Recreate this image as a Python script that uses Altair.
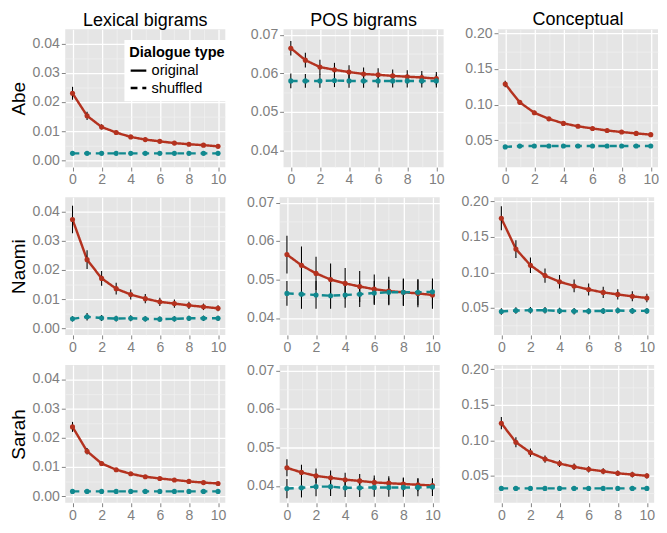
import altair as alt
import pandas as pd

LAGS = [0, 1, 2, 3, 4, 5, 6, 7, 8, 9, 10]
TYPES = ["original", "shuffled"]
SPEAKERS = ["Abe", "Naomi", "Sarah"]
MEASURES = ["Lexical bigrams", "POS bigrams", "Conceptual"]

# ---- Abe ----
ABE_LEX_ORIG = [0.0230, 0.0153, 0.0115, 0.0096, 0.0081, 0.0072, 0.0066, 0.0060, 0.0056, 0.0053, 0.0049]
ABE_LEX_ORIG_ERR = [0.0022, 0.0014, 0.0009, 0.0007, 0.0006, 0.0006, 0.0005, 0.0005, 0.0005, 0.0005, 0.0004]
ABE_LEX_SHUF = [0.0025, 0.0025, 0.0025, 0.0025, 0.0025, 0.0025, 0.0025, 0.0025, 0.0025, 0.0025, 0.0025]
ABE_LEX_SHUF_ERR = [0.0003, 0.0003, 0.0003, 0.0003, 0.0003, 0.0003, 0.0003, 0.0003, 0.0003, 0.0003, 0.0003]

ABE_POS_ORIG = [0.0665, 0.0634, 0.0616, 0.0609, 0.0603, 0.0598, 0.0596, 0.0593, 0.0591, 0.0589, 0.0586]
ABE_POS_ORIG_ERR = [0.0019, 0.0019, 0.0019, 0.0018, 0.0018, 0.0017, 0.0017, 0.0017, 0.0017, 0.0017, 0.0017]
ABE_POS_SHUF = [0.0580, 0.0580, 0.0580, 0.0581, 0.0580, 0.0580, 0.0580, 0.0580, 0.0580, 0.0580, 0.0580]
ABE_POS_SHUF_ERR = [0.0019, 0.0018, 0.0018, 0.0017, 0.0018, 0.0018, 0.0017, 0.0017, 0.0017, 0.0017, 0.0017]

ABE_CON_ORIG = [0.1290, 0.1032, 0.0886, 0.0800, 0.0736, 0.0695, 0.0664, 0.0636, 0.0614, 0.0595, 0.0577]
ABE_CON_ORIG_ERR = [0.0045, 0.0035, 0.0028, 0.0025, 0.0023, 0.0022, 0.0021, 0.0020, 0.0019, 0.0019, 0.0018]
ABE_CON_SHUF = [0.0405, 0.0416, 0.0418, 0.0418, 0.0418, 0.0418, 0.0418, 0.0418, 0.0418, 0.0418, 0.0418]
ABE_CON_SHUF_ERR = [0.0010, 0.0010, 0.0010, 0.0010, 0.0010, 0.0010, 0.0010, 0.0010, 0.0010, 0.0010, 0.0010]

# ---- Naomi ----
NAOMI_LEX_ORIG = [0.0372, 0.0235, 0.0171, 0.0136, 0.0116, 0.0102, 0.0091, 0.0085, 0.0079, 0.0074, 0.0069]
NAOMI_LEX_ORIG_ERR = [0.0047, 0.0032, 0.0025, 0.0020, 0.0017, 0.0016, 0.0014, 0.0014, 0.0012, 0.0011, 0.0010]
NAOMI_LEX_SHUF = [0.0033, 0.0040, 0.0036, 0.0034, 0.0035, 0.0033, 0.0032, 0.0033, 0.0035, 0.0035, 0.0035]
NAOMI_LEX_SHUF_ERR = [0.0009, 0.0013, 0.0010, 0.0010, 0.0010, 0.0009, 0.0009, 0.0009, 0.0009, 0.0009, 0.0009]

NAOMI_POS_ORIG = [0.0565, 0.0537, 0.0516, 0.0500, 0.0490, 0.0482, 0.0475, 0.0470, 0.0467, 0.0464, 0.0460]
NAOMI_POS_ORIG_ERR = [0.0049, 0.0049, 0.0043, 0.0042, 0.0040, 0.0040, 0.0038, 0.0037, 0.0036, 0.0036, 0.0036]
NAOMI_POS_SHUF = [0.0464, 0.0462, 0.0460, 0.0458, 0.0460, 0.0462, 0.0465, 0.0467, 0.0467, 0.0467, 0.0468]
NAOMI_POS_SHUF_ERR = [0.0032, 0.0038, 0.0036, 0.0034, 0.0033, 0.0033, 0.0031, 0.0032, 0.0034, 0.0034, 0.0035]

NAOMI_CON_ORIG = [0.1763, 0.1330, 0.1102, 0.0956, 0.0870, 0.0810, 0.0760, 0.0719, 0.0691, 0.0664, 0.0641]
NAOMI_CON_ORIG_ERR = [0.0170, 0.0125, 0.0110, 0.0100, 0.0095, 0.0090, 0.0085, 0.0080, 0.0072, 0.0070, 0.0060]
NAOMI_CON_SHUF = [0.0450, 0.0464, 0.0468, 0.0468, 0.0459, 0.0455, 0.0455, 0.0459, 0.0464, 0.0459, 0.0459]
NAOMI_CON_SHUF_ERR = [0.0045, 0.0045, 0.0045, 0.0045, 0.0045, 0.0045, 0.0042, 0.0042, 0.0042, 0.0040, 0.0040]

# ---- Sarah ----
SARAH_LEX_ORIG = [0.0237, 0.0154, 0.0112, 0.0091, 0.0077, 0.0067, 0.0061, 0.0056, 0.0051, 0.0047, 0.0044]
SARAH_LEX_ORIG_ERR = [0.0017, 0.0011, 0.0007, 0.0006, 0.0005, 0.0005, 0.0004, 0.0004, 0.0004, 0.0004, 0.0004]
SARAH_LEX_SHUF = [0.0017, 0.0017, 0.0017, 0.0017, 0.0017, 0.0017, 0.0017, 0.0017, 0.0017, 0.0017, 0.0017]
SARAH_LEX_SHUF_ERR = [0.0002, 0.0002, 0.0002, 0.0002, 0.0002, 0.0002, 0.0002, 0.0002, 0.0002, 0.0002, 0.0002]

SARAH_POS_ORIG = [0.0447, 0.0435, 0.0426, 0.0421, 0.0416, 0.0413, 0.0409, 0.0407, 0.0405, 0.0403, 0.0401]
SARAH_POS_ORIG_ERR = [0.0022, 0.0020, 0.0019, 0.0019, 0.0018, 0.0018, 0.0018, 0.0018, 0.0017, 0.0017, 0.0017]
SARAH_POS_SHUF = [0.0393, 0.0395, 0.0398, 0.0398, 0.0395, 0.0395, 0.0396, 0.0396, 0.0396, 0.0396, 0.0397]
SARAH_POS_SHUF_ERR = [0.0025, 0.0025, 0.0025, 0.0024, 0.0024, 0.0024, 0.0024, 0.0024, 0.0024, 0.0023, 0.0023]

SARAH_CON_ORIG = [0.1241, 0.0973, 0.0827, 0.0736, 0.0673, 0.0627, 0.0591, 0.0564, 0.0536, 0.0518, 0.0500]
SARAH_CON_ORIG_ERR = [0.0086, 0.0070, 0.0057, 0.0052, 0.0048, 0.0046, 0.0044, 0.0042, 0.0040, 0.0040, 0.0038]
SARAH_CON_SHUF = [0.0323, 0.0323, 0.0323, 0.0323, 0.0323, 0.0323, 0.0323, 0.0323, 0.0323, 0.0323, 0.0323]
SARAH_CON_SHUF_ERR = [0.0012, 0.0012, 0.0012, 0.0012, 0.0012, 0.0012, 0.0012, 0.0012, 0.0012, 0.0012, 0.0012]

# axis settings per column
X_DOMAIN = [-0.5, 10.5]
X_MAJOR = [0, 2, 4, 6, 8, 10]
X_MINOR = [1, 3, 5, 7, 9]
Y_DOMAINS = [[-0.0022, 0.0448], [0.0356, 0.0714], [0.012, 0.206]]
Y_MAJOR = [[0.00, 0.01, 0.02, 0.03, 0.04], [0.04, 0.05, 0.06, 0.07], [0.05, 0.10, 0.15, 0.20]]
Y_MINOR = [[0.005, 0.015, 0.025, 0.035], [0.045, 0.055, 0.065], [0.025, 0.075, 0.125, 0.175]]
# nudge of each column title so that all three sit at the same height
TITLE_DY = [0, 2, 3]

PANELS = {
    ("Abe", 0): (ABE_LEX_ORIG, ABE_LEX_ORIG_ERR, ABE_LEX_SHUF, ABE_LEX_SHUF_ERR),
    ("Abe", 1): (ABE_POS_ORIG, ABE_POS_ORIG_ERR, ABE_POS_SHUF, ABE_POS_SHUF_ERR),
    ("Abe", 2): (ABE_CON_ORIG, ABE_CON_ORIG_ERR, ABE_CON_SHUF, ABE_CON_SHUF_ERR),
    ("Naomi", 0): (NAOMI_LEX_ORIG, NAOMI_LEX_ORIG_ERR, NAOMI_LEX_SHUF, NAOMI_LEX_SHUF_ERR),
    ("Naomi", 1): (NAOMI_POS_ORIG, NAOMI_POS_ORIG_ERR, NAOMI_POS_SHUF, NAOMI_POS_SHUF_ERR),
    ("Naomi", 2): (NAOMI_CON_ORIG, NAOMI_CON_ORIG_ERR, NAOMI_CON_SHUF, NAOMI_CON_SHUF_ERR),
    ("Sarah", 0): (SARAH_LEX_ORIG, SARAH_LEX_ORIG_ERR, SARAH_LEX_SHUF, SARAH_LEX_SHUF_ERR),
    ("Sarah", 1): (SARAH_POS_ORIG, SARAH_POS_ORIG_ERR, SARAH_POS_SHUF, SARAH_POS_SHUF_ERR),
    ("Sarah", 2): (SARAH_CON_ORIG, SARAH_CON_ORIG_ERR, SARAH_CON_SHUF, SARAH_CON_SHUF_ERR),
}

RED = "#B4321F"
TEAL = "#11898F"
GREY = "#7F7F7F"
MINOR = "#F2F2F2"
FONT = "Liberation Sans"
W, H = 165, 142


def panel_df(orig, orig_err, shuf, shuf_err):
    rows = []
    for t, vals, errs in (("original", orig, orig_err), ("shuffled", shuf, shuf_err)):
        for lag, v, e in zip(LAGS, vals, errs):
            rows.append({"lag": lag, "value": v, "lo": v - e, "hi": v + e,
                         "type": t, "kind": t})
    return pd.DataFrame(rows)


def panel(speaker, col, row_idx):
    df = panel_df(*PANELS[(speaker, col)])
    xscale = alt.Scale(domain=X_DOMAIN, nice=False, zero=False)
    yscale = alt.Scale(domain=Y_DOMAINS[col], nice=False, zero=False)
    base = alt.Chart(df)

    minor = base.mark_point(opacity=0).encode(
        x=alt.X("lag:Q", scale=xscale,
                axis=alt.Axis(values=X_MINOR, grid=True, gridColor=MINOR, gridWidth=0.7,
                              labels=False, ticks=False, domain=False, orient="bottom",
                              title=None, minExtent=0)),
        y=alt.Y("value:Q", scale=yscale,
                axis=alt.Axis(values=Y_MINOR[col], grid=True, gridColor=MINOR, gridWidth=0.7,
                              labels=False, ticks=False, domain=False, orient="left",
                              title=None, minExtent=0)),
    )

    yaxis_kw = dict(values=Y_MAJOR[col], grid=True, gridColor="white", gridWidth=1.3,
                    domain=False, tickColor=GREY, tickSize=4, labelColor=GREY,
                    labelFontSize=14.5, labelPadding=2, format=".2f", orient="left",
                    minExtent=0)
    if col == 0:
        yaxis_kw.update(title=speaker, titleFontSize=19.5, titleColor="black",
                        titleFontWeight="normal", titlePadding=4)
    else:
        yaxis_kw.update(title=None)

    if speaker == "Abe" and col == 0:
        dash_legend = alt.Legend(
            title="Dialogue type", orient="none", legendX=61, legendY=11,
            titleFontSize=15, titleFontWeight="bold", titleColor="black",
            labelFontSize=15, labelColor="black", symbolType="stroke",
            symbolSize=260, symbolStrokeWidth=2.5, symbolStrokeColor="black",
            fillColor="white", padding=5, rowPadding=0, titlePadding=2,
        )
    else:
        dash_legend = None

    # colour uses its own field (no explicit domain) so it is not merged with the dash legend
    color = alt.Color("kind:N", scale=alt.Scale(range=[RED, TEAL]), legend=None)

    lines = base.mark_line(strokeWidth=2.5, color="black").encode(
        x=alt.X("lag:Q", scale=xscale,
                axis=alt.Axis(values=X_MAJOR, grid=True, gridColor="white", gridWidth=1.3,
                              domain=False, tickColor=GREY, tickSize=4, labelColor=GREY,
                              labelFontSize=14.5, labelPadding=2, orient="bottom", title=None)),
        y=alt.Y("value:Q", scale=yscale, axis=alt.Axis(**yaxis_kw)),
        color=color,
        strokeDash=alt.StrokeDash("type:N",
                                  scale=alt.Scale(domain=TYPES, range=[[1, 0], [7, 5]]),
                                  legend=dash_legend),
    )
    bars = base.mark_rule(color="black", strokeWidth=1.1).encode(
        x=alt.X("lag:Q", axis=None),
        y=alt.Y("lo:Q", axis=None),
        y2="hi:Q",
    )
    points = base.mark_circle(size=28, opacity=1).encode(
        x=alt.X("lag:Q", axis=None),
        y=alt.Y("value:Q", axis=None),
        color=color,
    )
    ch = alt.layer(minor, lines, bars, points).resolve_axis(x="independent", y="independent")
    props = dict(width=W, height=H)
    if row_idx == 0:
        props["title"] = alt.TitleParams(text=MEASURES[col], fontSize=18.5, fontWeight="normal",
                                         color="black", font=FONT, offset=0, anchor="middle",
                                         frame="group", dy=TITLE_DY[col])
    return ch.properties(**props)


rows = []
for r, sp in enumerate(SPEAKERS):
    rows.append(
        alt.hconcat(*[panel(sp, c, r) for c in range(3)], spacing=20)
        .resolve_scale(color="independent", strokeDash="independent")
        .resolve_legend(color="independent", strokeDash="independent")
    )

chart = (
    alt.vconcat(*rows, spacing=7)
    .resolve_scale(color="independent", strokeDash="independent")
    .resolve_legend(color="independent", strokeDash="independent")
    .properties(padding={"left": 0, "top": -6, "right": 0, "bottom": 0})
    .configure(font=FONT)
    .configure_view(fill="#E5E5E5", stroke=None)
)

chart.save("out.html", embed_options={"renderer": "svg", "actions": False})
